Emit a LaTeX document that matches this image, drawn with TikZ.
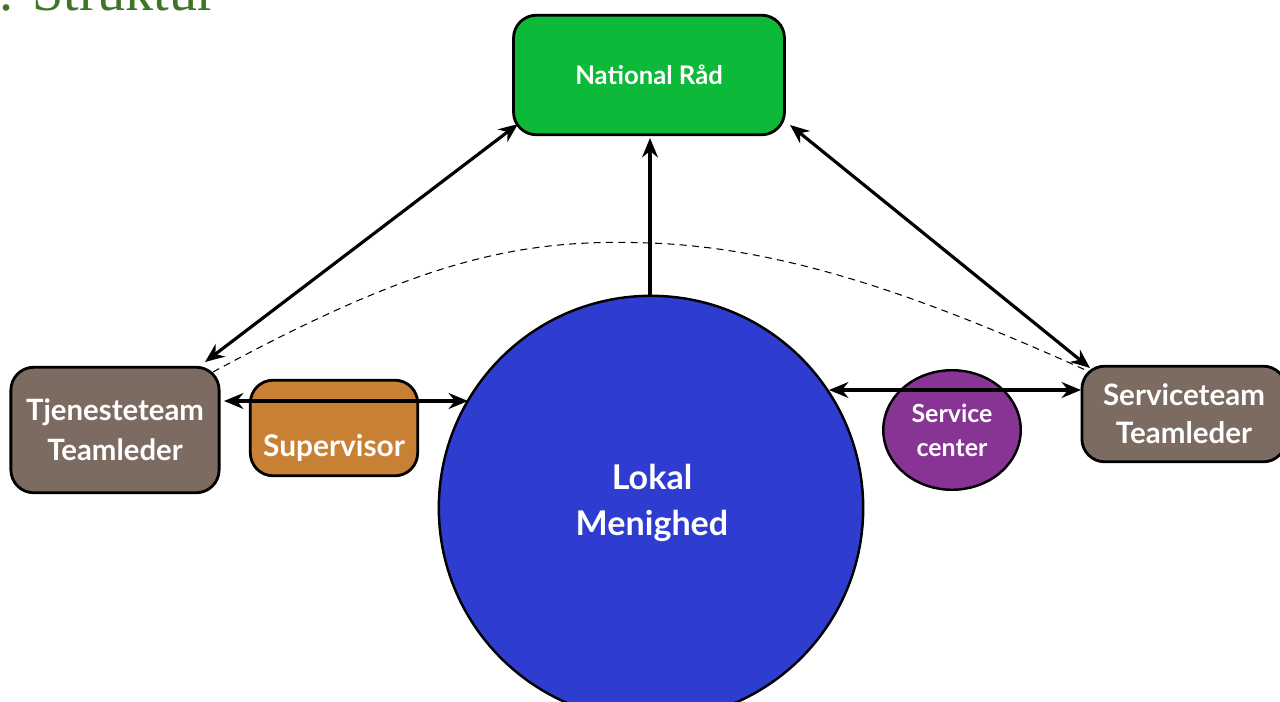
\documentclass[tikz,border=0pt]{standalone}
\usepackage{fontspec}
\setmainfont{Lato}
\newfontfamily\titlefont{Liberation Serif}
\usetikzlibrary{arrows.meta,shapes.geometric}
\definecolor{natgreen}{RGB}{12,185,56}
\definecolor{teambrown}{RGB}{124,107,96}
\definecolor{supor}{RGB}{200,128,52}
\definecolor{lokblue}{RGB}{46,60,208}
\definecolor{svcpurple}{RGB}{136,52,148}
\definecolor{titlegreen}{RGB}{62,118,40}
\tikzset{
  box/.style={draw=black, line width=1.6pt, rounded corners=13pt, text=white, align=center, inner sep=0pt, font=\bfseries},
  wtext/.style={text=white, align=center, inner sep=0pt},
  conn/.style={line width=1.8pt, {Stealth[length=11pt,width=9pt]}-{Stealth[length=11pt,width=9pt]}},
  oneway/.style={line width=1.8pt, -{Stealth[length=11pt,width=9pt]}},
  dashline/.style={line width=0.6pt, dash pattern=on 4pt off 3pt}
}
\begin{document}
\begin{tikzpicture}[x=0.02cm,y=-0.02cm]
\useasboundingbox (0,0) rectangle (1280,702);
\fill[white] (0,0) rectangle (1280,702);
\node[anchor=base west, inner sep=0pt, text=titlegreen, font=\titlefont\fontsize{32}{36}\selectfont] (title) at (-1,11) {. Struktur};
% nodes
\node[box, fill=natgreen, minimum width=272*0.567pt, minimum height=120*0.567pt, font=\bfseries\fontsize{14.6}{18}\selectfont] (nat) at (649,75) {National Råd};
\node[box, fill=teambrown, minimum width=209*0.567pt, minimum height=126*0.567pt, font=\bfseries\fontsize{16.7}{22.7}\selectfont] (tj) at (115,430) {Tjenesteteam\\Teamleder};
\node[box, fill=supor, minimum width=168*0.567pt, minimum height=96*0.567pt] (sup) at (334,428) {};
\node[wtext, font=\bfseries\fontsize{17}{20}\selectfont] (suptxt) at (334,448) {Supervisor};
\node[circle, draw=black, line width=1.4pt, fill=lokblue, minimum size=426*0.567pt, inner sep=0pt] (lok) at (651,508) {};
\node[wtext, font=\bfseries\fontsize{19.4}{26}\selectfont] (loktxt) at (652,503) {Lokal\\Menighed};
\node[ellipse, draw=black, line width=1.4pt, fill=svcpurple, minimum width=138*0.567pt, minimum height=120*0.567pt, inner sep=0pt, text=white, align=center, font=\bfseries\fontsize{14.2}{19.2}\selectfont] (svc) at (952,430) {Service\\center};
\node[box, fill=teambrown, minimum width=205*0.567pt, minimum height=96*0.567pt, font=\bfseries\fontsize{16.8}{21.5}\selectfont] (st) at (1184,414) {Serviceteam\\Teamleder};
% coordinates
\coordinate (tjtr) at (205,362);
\coordinate (natbl) at (518,124);
\coordinate (natb) at (650,138);
\coordinate (lokt) at (650,296);
\coordinate (natbr) at (790,125);
\coordinate (sttl) at (1090,368);
\coordinate (tjr) at (224,401);
\coordinate (lokl) at (468,401);
\coordinate (lokr) at (829,390);
\coordinate (stl) at (1081,390);
\coordinate (dA) at (213,372);
\coordinate (dB) at (1090,372);
% dashed arc
\draw[dashline] (dA) .. controls (420,260) and (520,238) .. (650,243) .. controls (790,248) and (930,300) .. (dB);
% connectors
\draw[conn] (tjtr) -- (natbl);
\draw[oneway] (lokt) -- (natb);
\draw[conn] (natbr) -- (sttl);
\draw[conn] (tjr) -- (lokl);
\draw[conn] (lokr) -- (stl);
\end{tikzpicture}
\end{document}
